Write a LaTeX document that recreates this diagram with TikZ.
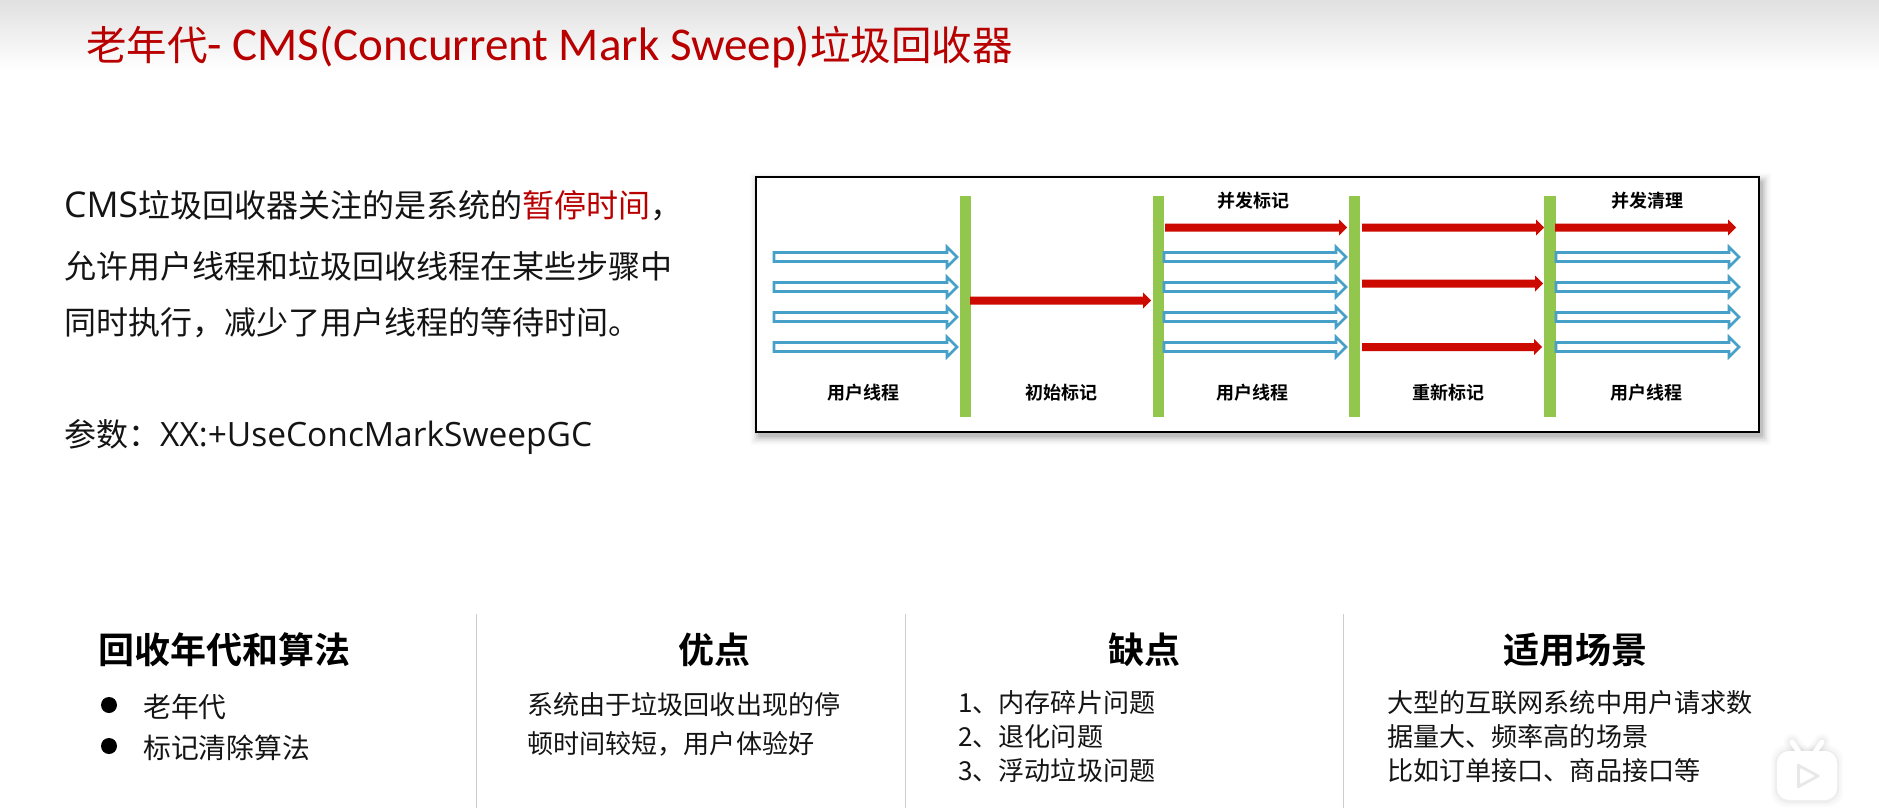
\documentclass[tikz,border=0pt]{standalone}
\usepackage{fontspec}
\setmainfont{Noto Sans CJK SC}
\newfontfamily\latinfont{Carlito}
\newfontfamily\bodylatin{Open Sans}
\newfontfamily\cjkbold{Noto Sans CJK SC Bold}
\definecolor{titlered}{RGB}{185,0,0}
\definecolor{barred}{RGB}{204,10,0}
\definecolor{bargreen}{RGB}{146,198,76}
\definecolor{threadblue}{RGB}{70,160,200}
\definecolor{bodyink}{RGB}{20,20,20}
\tikzset{
  x=1pt,y=-1pt,
  txt/.style={anchor=west,inner sep=0pt,text=bodyink,font=\fontsize{32}{32}\selectfont},
  head/.style={anchor=center,inner sep=0pt,text=black,font=\cjkbold\fontsize{36}{36}\selectfont},
  lab/.style={anchor=center,inner sep=0pt,text=black,font=\cjkbold\fontsize{18}{18}\selectfont},
  small/.style={anchor=west,inner sep=0pt,text=bodyink,font=\fontsize{26.1}{26}\selectfont},
  smaller/.style={small,font=\fontsize{27.8}{28}\selectfont},
  thread/.style={draw=threadblue,line width=2.6pt,fill=white,line join=miter},
  divider/.style={draw=black!20,line width=0.8pt},
  gc/.style={draw=none,fill=barred},
  badgeedge/.style={draw=black,line cap=round,line join=round},
}
\newcommand{\threadarrow}[3]{%
  \draw[thread] (#1,#3-4.5) -- (#2-10,#3-4.5) -- (#2-10,#3-10) -- (#2,#3) -- (#2-10,#3+10) -- (#2-10,#3+4.5) -- (#1,#3+4.5) -- cycle;}
\newcommand{\gcarrow}[3]{%
  \fill[gc] (#1,#3-4) -- (#2-8,#3-4) -- (#2-8,#3-8) -- (#2,#3) -- (#2-8,#3+8) -- (#2-8,#3+4) -- (#1,#3+4) -- cycle;}
\begin{document}
\begin{tikzpicture}
\useasboundingbox (0,0) rectangle (1879,808);
\fill[white] (0,0) rectangle (1879,808);
\shade[top color=black!12,bottom color=white] (0,0) rectangle (1879,70);
% title
\node[anchor=west,inner sep=0pt,text=titlered,font=\fontsize{40.5}{41}\selectfont] (title) at (86,47)
  {老年代{\latinfont\fontsize{47}{47}\selectfont - CMS(Concurrent Mark Sweep)}垃圾回收器};
% body
\node[txt] (l1) at (64,206) {{\bodylatin\fontsize{35.5}{35}\selectfont CMS}垃圾回收器关注的是系统的{\color{titlered}暂停时间}，};
\node[txt] (l2) at (64,266) {允许用户线程和垃圾回收线程在某些步骤中};
\node[txt] (l3) at (64,323) {同时执行，减少了用户线程的等待时间。};
\node[txt] (l4) at (64,437) {参数：{\bodylatin\fontsize{33.5}{33}\selectfont XX:+UseConcMarkSweepGC}};
% soft shadow of the diagram box
\foreach \d/\op in {8/0.02,6/0.03,4/0.05,2/0.07,0/0.09}
  \fill[black,opacity=\op,rounded corners=2pt] (758-\d,181-\d) rectangle (1763+\d,437+\d);
% diagram box
\draw[black,line width=2pt,fill=white] (756,177) rectangle (1759,432);
\fill[bargreen] (960,196) rectangle (971,417);
\fill[bargreen] (1153,196) rectangle (1164,417);
\fill[bargreen] (1349,196) rectangle (1360,417);
\fill[bargreen] (1544,196) rectangle (1556,417);
\foreach \yy in {257,287,317,347} {
  \threadarrow{774}{957}{\yy}
  \threadarrow{1164}{1346}{\yy}
  \threadarrow{1556}{1739}{\yy}
}
\gcarrow{970}{1151}{300.5}
\gcarrow{1165}{1347}{227.5}
\gcarrow{1362}{1544}{227.5}
\gcarrow{1555}{1736}{227.5}
\gcarrow{1362}{1543}{283.5}
\gcarrow{1362}{1542}{347}
\node[lab] (a1) at (863,393) {用户线程};
\node[lab] (a2) at (1061,393) {初始标记};
\node[lab] (a3) at (1252,393) {用户线程};
\node[lab] (a4) at (1448,393) {重新标记};
\node[lab] (a5) at (1646,393) {用户线程};
\node[lab] (a6) at (1253,201) {并发标记};
\node[lab] (a7) at (1647,201) {并发清理};
% dividers
\draw[divider] (476,614) -- (476,808);
\draw[divider] (905,614) -- (905,808);
\draw[divider] (1343,614) -- (1343,808);
% bottom columns
\node[head] (h1) at (224,650) {回收年代和算法};
\node[head] (h2) at (714,650) {优点};
\node[head] (h3) at (1144,650) {缺点};
\node[head] (h4) at (1575,650) {适用场景};
\fill[black] (109,705) circle (8);
\fill[black] (109,746) circle (8);
\node[smaller] (c1) at (143,707) {老年代};
\node[smaller] (c2) at (143,748) {标记清除算法};
\node[small] (d1) at (527,705) {系统由于垃圾回收出现的停};
\node[small] (d2) at (527,744) {顿时间较短，用户体验好};
\node[small] (e1) at (958,703) {1、内存碎片问题};
\node[small] (e2) at (958,737) {2、退化问题};
\node[small] (e3) at (958,771) {3、浮动垃圾问题};
\node[small] (f1) at (1387,703) {大型的互联网系统中用户请求数};
\node[small] (f2) at (1387,737) {据量大、频率高的场景};
\node[small] (f3) at (1387,771) {比如订单接口、商品接口等};
% faint video-site badge, bottom right
\foreach \d/\op in {6/0.015,4/0.02,2/0.03} {
  \fill[black,opacity=\op,rounded corners=14] (1777-\d,751-\d) rectangle (1837+\d,801+\d);
  \draw[badgeedge,opacity=\op,line width=5pt+2*\d] (1799,752) -- (1792,742);
  \draw[badgeedge,opacity=\op,line width=5pt+2*\d] (1815,752) -- (1822,742);
}
\draw[white,line width=5pt,line cap=round] (1799,752) -- (1792,742);
\draw[white,line width=5pt,line cap=round] (1815,752) -- (1822,742);
\fill[white,rounded corners=12] (1777,751) rectangle (1837,800);
\fill[black!9,rounded corners=2] (1797,763) -- (1821,776) -- (1797,789) -- cycle;
\fill[white,rounded corners=1] (1800,768) -- (1815,776) -- (1800,784) -- cycle;
\end{tikzpicture}
\end{document}
